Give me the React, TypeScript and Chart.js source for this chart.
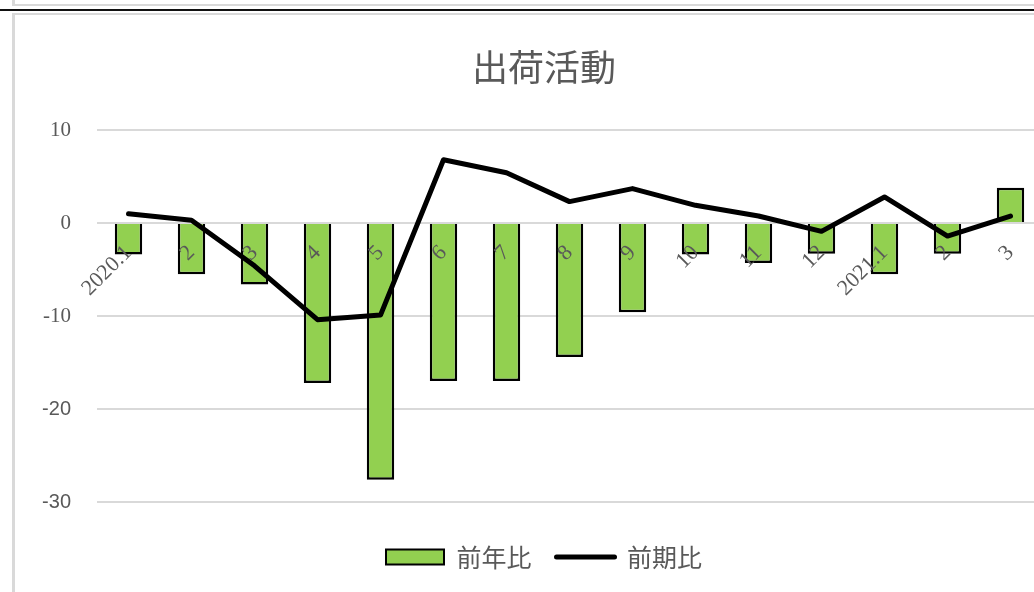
import React, { useEffect, useRef } from "react";
import { Chart, registerables } from "chart.js";

Chart.register(...registerables);

const TITLE = "出荷活動";
const CATEGORIES = ["2020.1", "2", "3", "4", "5", "6", "7", "8", "9", "10", "11", "12", "2021.1", "2", "3"];
const YOY_LABEL = "前年比";
const YOY_VALUES = [-3.4, -5.5, -6.6, -17.2, -27.6, -17.0, -17.0, -14.4, -9.6, -3.4, -4.3, -3.3, -5.5, -3.3, 3.8];
const QOQ_LABEL = "前期比";
const QOQ_VALUES = [1.0, 0.3, -4.6, -10.4, -9.9, 6.8, 5.4, 2.3, 3.7, 1.9, 0.75, -0.9, 2.8, -1.4, 0.75];
const Y_MIN = -30;
const Y_MAX = 10;
const Y_STEP = 10;

const GRAY_TEXT = "#595959";
const GRID = "#d9d9d9";

export default function App() {
  const ref = useRef<HTMLCanvasElement | null>(null);

  useEffect(() => {
    if (!ref.current) return;
    const chart = new Chart(ref.current, {
      type: "bar",
      data: {
        labels: CATEGORIES,
        datasets: [
          {
            type: "line",
            label: QOQ_LABEL,
            data: QOQ_VALUES,
            borderColor: "#000000",
            backgroundColor: "#000000",
            borderWidth: 5,
            pointRadius: 0,
            borderCapStyle: "round",
            borderJoinStyle: "round",
            tension: 0,
            order: 0,
            pointStyle: "line",
          } as any,
          {
            type: "bar",
            label: YOY_LABEL,
            data: YOY_VALUES,
            backgroundColor: "#92d050",
            borderColor: "#000000",
            borderWidth: 2.5,
            barPercentage: 0.435,
            categoryPercentage: 1,
            order: 1,
            pointStyle: "rect",
          } as any,
        ],
      },
      options: {
        animation: false,
        responsive: false,
        maintainAspectRatio: false,
        devicePixelRatio: 1,
        layout: { padding: { left: 0, right: 0, top: 0, bottom: 12.5 } },
        plugins: {
          title: {
            display: true,
            text: TITLE,
            color: GRAY_TEXT,
            font: { family: "'Noto Sans CJK JP'", size: 36, weight: "normal", lineHeight: 1.2 },
            padding: { top: 30.4, bottom: 41.4 },
          },
          legend: {
            display: true,
            position: "bottom",
            reverse: true,
            labels: {
              usePointStyle: true,
              pointStyleWidth: 58,
              boxHeight: 15,
              padding: 25,
              color: GRAY_TEXT,
              font: { family: "'Noto Sans CJK JP'", size: 25 },
              generateLabels: (ch: any) => {
                const items = Chart.defaults.plugins.legend.labels.generateLabels(ch);
                return items.map((it: any) => {
                  const ds = ch.data.datasets[it.datasetIndex];
                  if (ds.type === "line") {
                    return { ...it, pointStyle: "line", lineWidth: 5, lineCap: "round", strokeStyle: "#000", fillStyle: "#000" };
                  }
                  return { ...it, pointStyle: "rect", lineWidth: 2, strokeStyle: "#000", fillStyle: "#92d050" };
                });
              },
            },
          },
          tooltip: { enabled: false },
        },
        scales: {
          x: {
            type: "category",
            position: { y: 0 } as any,
            grid: { display: false, drawTicks: false },
            border: { display: false },
            ticks: {
              z: 1,
              minRotation: 45,
              maxRotation: 45,
              autoSkip: false,
              padding: 17,
              color: GRAY_TEXT,
              font: { family: "'Liberation Serif'", size: 22 },
            },
          } as any,
          xPad: {
            type: "category",
            position: "bottom",
            grid: { display: false, drawTicks: false },
            border: { display: false },
            ticks: { display: false },
            afterFit: (s: any) => {
              s.height = 17.5;
            },
          } as any,
          y: {
            min: Y_MIN,
            max: Y_MAX,
            position: "left",
            grid: { color: GRID, lineWidth: 2, drawTicks: false },
            border: { display: false },
            ticks: {
              stepSize: Y_STEP,
              padding: 26,
              color: GRAY_TEXT,
              font: (ctx: any) => {
                const v = ctx.tick ? ctx.tick.value : 0;
                return v <= -20
                  ? { family: "'Liberation Sans'", size: 20 }
                  : { family: "'Liberation Serif'", size: 21 };
              },
            },
            afterFit: (s: any) => {
              s.width = 83;
            },
          },
          yPad: {
            type: "linear",
            position: "right",
            min: Y_MIN,
            max: Y_MAX,
            grid: { display: false, drawTicks: false },
            border: { display: false },
            ticks: { display: false },
            afterFit: (s: any) => {
              s.width = 32;
            },
          } as any,
        },
      },
    });
    return () => chart.destroy();
  }, []);

  return (
    <div style={{ position: "fixed", left: 0, top: 0, width: 1034, height: 592, overflow: "hidden", background: "#fff" }}>
      <div style={{ position: "absolute", left: 12, top: -4, width: 1100, height: 8, borderLeft: "3px solid #d9d9d9", borderBottom: "2px solid #d9d9d9" }} />
      <div style={{ position: "absolute", left: 0, top: 9, width: 1034, height: 2, background: "#111" }} />
      <div style={{ position: "absolute", left: 12, top: 13, width: 1100, height: 600, borderLeft: "3px solid #d9d9d9", borderTop: "2px solid #d9d9d9" }} />
      <canvas ref={ref} width={1060} height={577} style={{ position: "absolute", left: 14, top: 15, width: 1060, height: 577 }} />
    </div>
  );
}
